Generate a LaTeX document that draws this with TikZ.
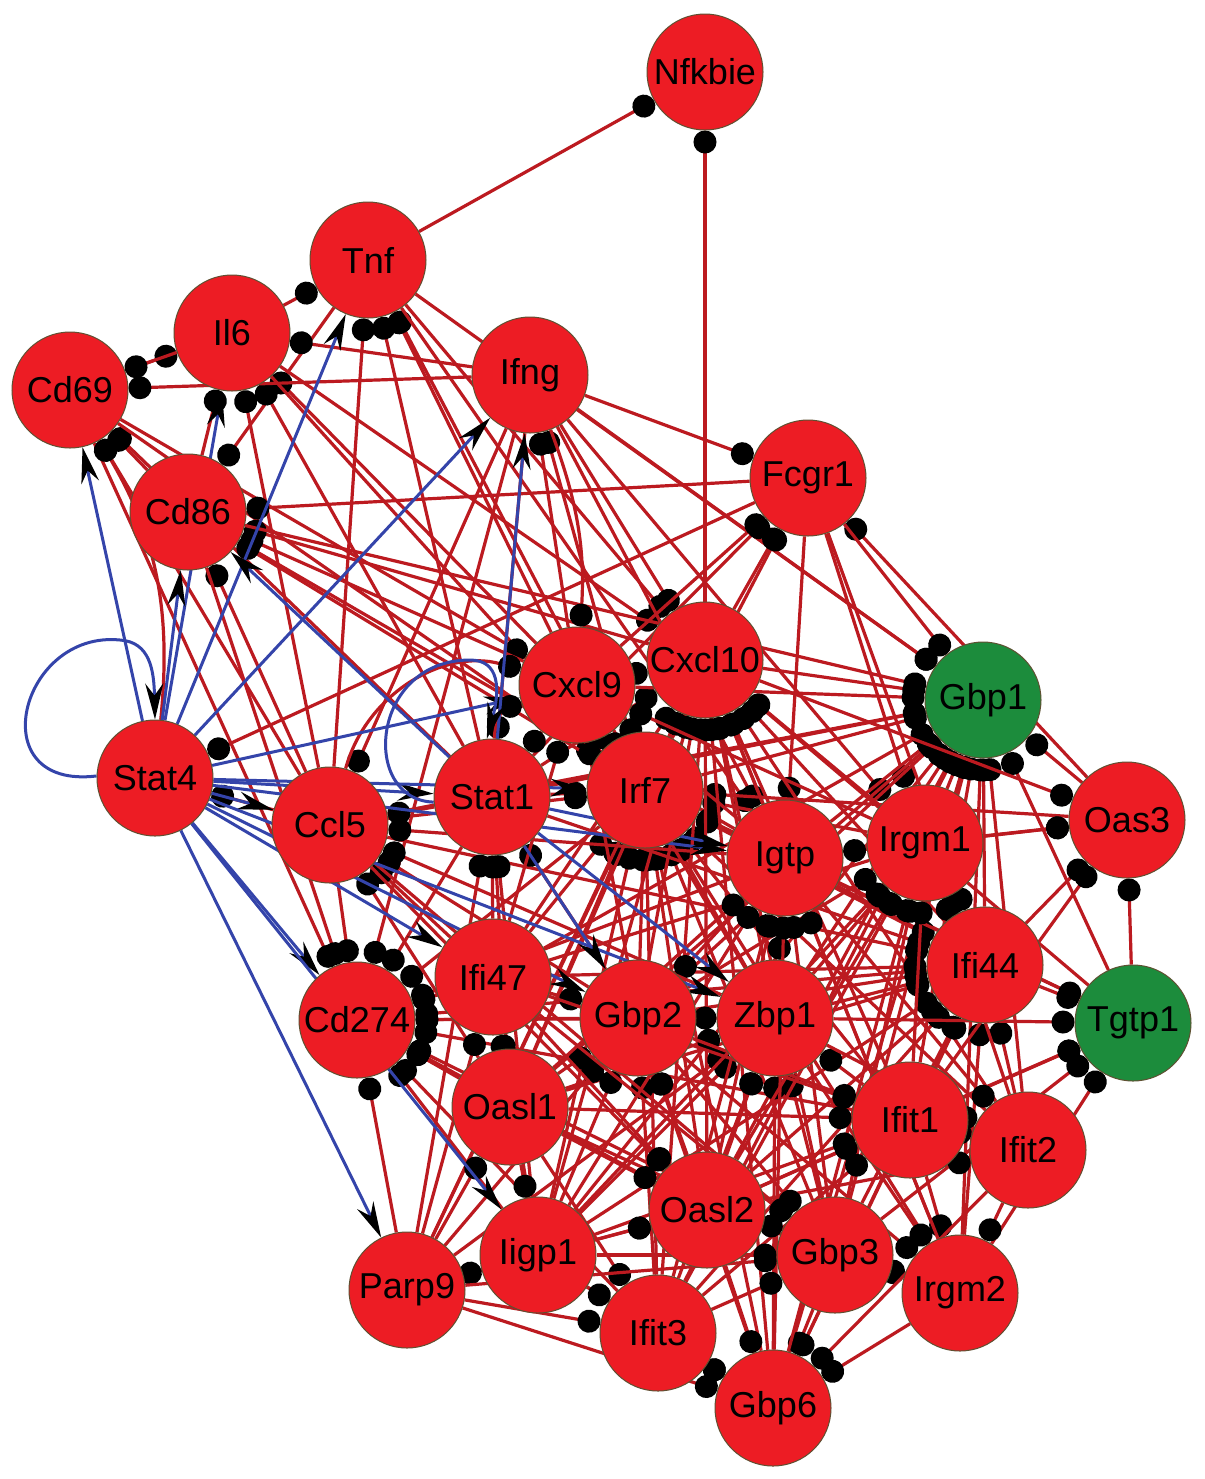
\documentclass[tikz,border=0pt]{standalone}
\usepackage{fontspec}
\setmainfont{Liberation Sans}
\usetikzlibrary{arrows.meta}
\pgfdeclarelayer{edges}
\pgfsetlayers{edges,main}
\definecolor{nred}{RGB}{237,28,36}
\definecolor{ngreen}{RGB}{28,140,60}
\definecolor{nborder}{RGB}{95,80,50}
\definecolor{ered}{RGB}{188,26,32}
\definecolor{eblue}{RGB}{52,68,170}
\begin{document}
\begin{tikzpicture}[x=0.5pt,y=-0.5pt,
  gene/.style={circle, draw=nborder, line width=0.5pt, fill=nred, minimum size=58pt, inner sep=0pt, font=\fontsize{18}{20}\selectfont},
  greengene/.style={gene, fill=ngreen},
  rel/.style={draw=ered, line width=1.6pt, -{Circle[length=11.5pt,color=black,fill=black]}},
  tf/.style={draw=eblue, line width=1.5pt, -{Stealth[length=18pt,width=9pt,inset=6pt,color=black,fill=black]}}]
\useasboundingbox (0,0) rectangle (1205,1479);
\foreach \n/\x/\y in {Nfkbie/705/72, Tnf/368/260, Il6/232/333, Cd69/70/390, Ifng/530/375,
  Fcgr1/808/478, Cd86/188/512, Cxcl9/577/685, Cxcl10/705/660, Stat4/155/778, Ccl5/330/825,
  Stat1/492/797, Irf7/645/790, Igtp/785/858, Irgm1/925/843, Oas3/1127/820, Ifi44/985/965,
  Ifi47/493/977, Gbp2/638/1018, Zbp1/775/1018, Cd274/357/1020, Oasl1/510/1107, Ifit1/910/1120,
  Ifit2/1028/1150, Oasl2/707/1210, Gbp3/835/1255, Iigp1/538/1255, Parp9/407/1290,
  Ifit3/658/1333, Irgm2/960/1293, Gbp6/773/1408}
  \node[gene] (\n) at (\x,\y) {\n};
\node[greengene] (Gbp1) at (983,700) {Gbp1};
\node[greengene] (Tgtp1) at (1133,1023) {Tgtp1};
\begin{pgfonlayer}{edges}
\fill[white] (0,0) rectangle (1205,1479);
% upper group
\foreach \s/\t in {Tnf/Nfkbie, Cxcl10/Nfkbie,
  Il6/Tnf, Stat1/Tnf, Ccl5/Tnf, Cxcl9/Tnf, Irf7/Tnf,
  Tnf/Cd86, Tnf/Cxcl10, Tnf/Gbp1, Tnf/Igtp,
  Cd69/Il6, Cd86/Il6, Ifng/Il6, Stat1/Il6, Ccl5/Il6, Cxcl9/Il6,
  Il6/Cd69, Il6/Irf7, Il6/Cxcl10,
  Ifng/Cd69, Cd86/Cd69, Ccl5/Cd69, Stat1/Cd69,
  Cd69/Cxcl9, Cd69/Irf7, Cd69/Cd274,
  Fcgr1/Cd86, Cxcl10/Cd86, Cxcl9/Cd86, Irf7/Cd86, Ccl5/Cd86, Igtp/Cd86,
  Cd86/Cd274, Cd86/Gbp1,
  Ifng/Fcgr1, Ifng/Cxcl10, Ifng/Igtp, Ifng/Irgm1, Ifng/Gbp1, Ifng/Stat1, Ifng/Ccl5, Ifng/Cd274,
  Cxcl9/Ifng, Irf7/Ifng,
  Cxcl10/Fcgr1, Irf7/Fcgr1, Cxcl9/Fcgr1, Stat1/Fcgr1, Oas3/Fcgr1,
  Fcgr1/Igtp, Fcgr1/Irgm1, Fcgr1/Gbp1, Fcgr1/Stat4, Fcgr1/Ifi44,
  Ccl5/Stat4}
  \draw[rel] (\s) -- (\t);
% hubs
\foreach \s in {Igtp, Irgm1, Oas3, Ifi44, Tgtp1, Zbp1, Gbp2, Ifit1, Ifit2, Oasl2, Gbp3, Iigp1, Ifit3, Irgm2, Gbp6, Ifi47, Oasl1, Parp9, Stat1, Ccl5}
  \draw[rel] (\s) -- (Irf7);
\foreach \s in {Irf7, Igtp, Irgm1, Ifi44, Zbp1, Gbp2, Ifit1, Ifit2, Oasl2, Gbp3, Iigp1, Ifit3, Irgm2, Gbp6, Ifi47, Oasl1, Stat1, Tgtp1, Cxcl9, Parp9}
  \draw[rel] (\s) -- (Cxcl10);
\foreach \s in {Irgm1, Igtp, Ifi44, Zbp1, Gbp2, Ifit1, Ifit2, Oasl2, Gbp3, Irgm2, Gbp6, Ifit3, Stat1, Irf7, Cxcl10, Cxcl9, Ccl5, Iigp1, Oasl1, Ifi47, Oas3, Tgtp1}
  \draw[rel] (\s) -- (Gbp1);
\foreach \s in {Stat1, Irf7, Ifi47, Gbp2, Zbp1, Oasl1, Igtp, Ifi44, Ifit1, Oasl2, Iigp1, Gbp3, Ccl5, Parp9, Ifit3, Irgm1}
  \draw[rel] (\s) -- (Cd274);
\foreach \s in {Igtp, Zbp1, Gbp2, Ifit1, Oasl2, Gbp3, Ifit3, Gbp6, Iigp1, Irgm2, Ifit2, Stat1, Oasl1, Ifi47, Irgm1, Ccl5}
  \draw[rel] (\s) -- (Ifi44);
\foreach \s in {Oasl2, Ifit3, Gbp6, Gbp3, Iigp1, Oasl1, Gbp2, Parp9, Ifit1, Igtp}
  \draw[rel] (\s) -- (Zbp1);
\foreach \s in {Oasl1, Iigp1, Ifit3, Oasl2, Parp9, Gbp6, Ifi47, Igtp}
  \draw[rel] (\s) -- (Gbp2);
\foreach \s in {Ifi47, Oasl1, Iigp1, Parp9, Gbp2, Cxcl9}
  \draw[rel] (\s) -- (Stat1);
\foreach \s in {Ifi47, Gbp2, Zbp1, Igtp, Stat1, Oasl1}
  \draw[rel] (\s) -- (Ccl5);
\foreach \s in {Irf7, Igtp, Gbp2, Zbp1, Ifi47, Irgm1}
  \draw[rel] (\s) -- (Cxcl9);
\foreach \s in {Irgm1, Igtp, Ifi44, Ifit1, Cxcl10, Tgtp1}
  \draw[rel] (\s) -- (Oas3);
\foreach \s in {Zbp1, Ifi44, Ifit1, Gbp3, Irgm2, Oasl2, Igtp}
  \draw[rel] (\s) -- (Tgtp1);
\foreach \s in {Ifit1, Oasl2, Gbp3, Ifit2, Zbp1, Gbp2}
  \draw[rel] (\s) -- (Irgm2);
\foreach \s in {Ifit1, Zbp1, Igtp, Oasl2}
  \draw[rel] (\s) -- (Ifit2);
\foreach \s in {Iigp1, Ifit3, Gbp3, Irgm2, Ifit1, Oasl2, Parp9, Ifit2}
  \draw[rel] (\s) -- (Gbp6);
\foreach \s in {Parp9, Iigp1, Oasl1}
  \draw[rel] (\s) -- (Ifit3);
\foreach \s in {Zbp1, Ifit1, Gbp3, Ifit2, Oasl2, Gbp2, Iigp1, Ifit3, Gbp6}
  \draw[rel] (\s) -- (Irgm1);
\foreach \s in {Gbp3, Oasl2, Ifit3, Iigp1, Oasl1, Gbp6, Irgm2}
  \draw[rel] (\s) -- (Igtp);
\foreach \s in {Oasl2, Iigp1, Ifit3, Ifi47}
  \draw[rel] (\s) -- (Ifit1);
\foreach \s in {Gbp2, Oasl1, Ifi47, Ifit3}
  \draw[rel] (\s) -- (Gbp3);
\foreach \s in {Iigp1, Parp9, Oasl1, Ifi47}
  \draw[rel] (\s) -- (Oasl2);
\foreach \s in {Oasl1, Parp9, Iigp1}
  \draw[rel] (\s) -- (Ifi47);
\foreach \s/\t in {Parp9/Iigp1, Oasl1/Ifit1, Irgm1/Igtp, Iigp1/Gbp3, Parp9/Gbp3, Gbp2/Ifit1,
  Oasl1/Iigp1, Parp9/Oasl1, Ccl5/Oasl2, Ccl5/Gbp3}
  \draw[rel] (\s) -- (\t);
% curved red
\draw[rel] (Ccl5) to[bend left=45] (Cxcl9);
\draw[rel] (Stat1) to[bend left=35] (Cxcl9);
\draw[rel] (Ifng) to[bend left=12] (Cxcl9);
\draw[rel] (Stat4) to[bend right=18] (Cd69);
% blue: transcriptional regulation
\foreach \t in {Cd69, Il6, Tnf, Cd86, Ifng, Cxcl9, Ccl5, Stat1, Irf7, Igtp, Gbp2, Zbp1, Ifi47, Cd274, Iigp1, Parp9}
  \draw[tf] (Stat4) -- (\t);
\foreach \t in {Ifng, Cd86, Zbp1, Gbp2, Igtp}
  \draw[tf] (Stat1) -- (\t);
\draw[tf] (Stat4.178) .. controls (-20,790) and (20,630) .. (120,640) .. controls (150,642) and (154,670) .. (Stat4.90);
\draw[tf] (Stat1.185) .. controls (360,800) and (370,660) .. (470,660) .. controls (500,660) and (500,690) .. (Stat1.95);
\end{pgfonlayer}
\end{tikzpicture}
\end{document}
